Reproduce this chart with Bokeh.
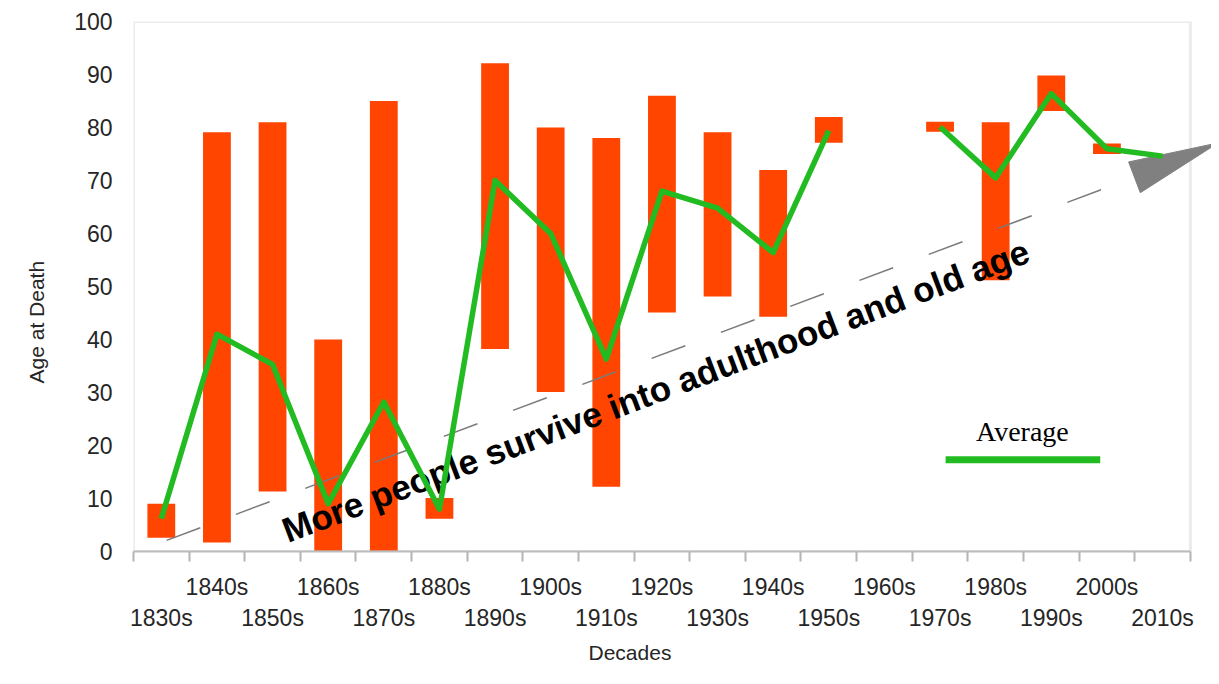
import math
from bokeh.plotting import figure
from bokeh.models import (Range1d, FixedTicker, LinearAxis, Arrow, PolyAnnotation,
                          Label, ColumnDataSource, BoxAnnotation, Title)
from bokeh.embed import file_html
from bokeh.resources import INLINE

nan = float("nan")

# ---------------- data ----------------
decades = ["1830s", "1840s", "1850s", "1860s", "1870s", "1880s", "1890s", "1900s",
           "1910s", "1920s", "1930s", "1940s", "1950s", "1960s", "1970s", "1980s",
           "1990s", "2000s", "2010s"]
youngest = [2.6, 1.7, 11.3, 0.0, 0.0, 6.2, 38.2, 30.1, 12.2, 45.1, 48.1, 44.3,
            77.1, nan, 79.2, 51.2, 83.1, 75.0, nan]
oldest = [9.0, 79.1, 81.0, 40.0, 85.0, 10.1, 92.1, 80.0, 78.0, 86.0, 79.1, 72.0,
          82.0, nan, 81.1, 81.0, 89.8, 77.0, nan]
average = [6.2, 41.0, 35.3, 9.0, 28.2, 8.0, 70.0, 60.0, 36.3, 68.0, 64.8, 56.4,
           79.4, nan, 80.1, 70.5, 86.4, 76.0, 74.6]
y_ticks = [0, 10, 20, 30, 40, 50, 60, 70, 80, 90, 100]

# ---------------- styles ----------------
BAR = "#ff4500"
GREEN = "#22bb22"
FONT = "Liberation Sans"
LABEL_COLOR = "#262626"
BORDER = "#bcbcbc"

n = len(decades)
idx = list(range(n))
X_START, X_BOX_END = -0.5, n - 0.5
X_END = X_BOX_END + 0.38          # extra room on the right for the arrow head

bar_idx = [i for i in idx if not math.isnan(oldest[i])]
bars = ColumnDataSource(dict(x=bar_idx,
                             top=[oldest[i] for i in bar_idx],
                             bottom=[youngest[i] for i in bar_idx]))
avg_src = ColumnDataSource(dict(x=idx, y=average))

p = figure(width=1211, height=668, output_backend="svg", toolbar_location=None,
           x_range=Range1d(X_START, X_END), y_range=Range1d(0, 100),
           x_axis_location=None, y_axis_location="left")
p.min_border_left = 133
p.min_border_right = 0
p.min_border_top = 21
p.min_border_bottom = 115
p.background_fill_color = "white"
p.border_fill_color = "white"
p.outline_line_color = None
p.xgrid.visible = False
p.ygrid.visible = False

# plot box border (stops at the last decade, the arrow head pokes out of it)
p.add_layout(BoxAnnotation(left=X_START, right=X_BOX_END, bottom=0, top=100,
                           fill_color=None, fill_alpha=0, line_color=BORDER,
                           line_width=3))

p.vbar(x="x", top="top", bottom="bottom", width=0.5, source=bars,
       fill_color=BAR, line_color=None)
ln = p.line(x="x", y="y", source=avg_src, line_color=GREEN, line_width=5.5,
            line_join="round")
ln.level = "overlay"

# y axis
ya = p.yaxis[0]
ya.ticker = FixedTicker(ticks=y_ticks)
ya.axis_line_color = None
ya.major_tick_line_color = None
ya.minor_tick_line_color = None
ya.major_tick_out = 0
ya.major_tick_in = 0
ya.major_label_standoff = 21
ya.major_label_text_font = FONT
ya.major_label_text_font_size = "23px"
ya.major_label_text_color = LABEL_COLOR

# x axes: two rows of alternating labels, ticks at the decade boundaries
centers = idx
boundaries = [i - 0.5 for i in range(n + 1)]

ax1 = LinearAxis(ticker=FixedTicker(ticks=centers, minor_ticks=boundaries),
                 bounds=(X_START, X_BOX_END))
ax1.major_label_overrides = {i: (decades[i] if i % 2 == 1 else " ") for i in idx}
ax1.major_tick_out = 0
ax1.major_tick_in = 0
ax1.major_tick_line_color = None
ax1.minor_tick_out = 10
ax1.minor_tick_in = 0
ax1.minor_tick_line_color = "#b4b4b4"
ax1.minor_tick_line_width = 2
ax1.axis_line_color = BORDER
ax1.axis_line_width = 2
ax1.major_label_standoff = 12
ax1.major_label_text_font = FONT
ax1.major_label_text_font_size = "23px"
ax1.major_label_text_color = LABEL_COLOR
p.add_layout(ax1, "below")

ax2 = LinearAxis(ticker=FixedTicker(ticks=centers), bounds=(X_START, X_BOX_END))
ax2.major_label_overrides = {i: (decades[i] if i % 2 == 0 else " ") for i in idx}
ax2.axis_line_color = None
ax2.major_tick_line_color = None
ax2.minor_tick_line_color = None
ax2.major_tick_out = 0
ax2.major_tick_in = 0
ax2.major_label_standoff = 2
ax2.major_label_text_font = FONT
ax2.major_label_text_font_size = "23px"
ax2.major_label_text_color = LABEL_COLOR
p.add_layout(ax2, "below")

# axis titles (as side titles so they can sit off-centre like the original)
p.add_layout(Title(text="Decades", align="left", offset=455, standoff=10,
                   text_font=FONT, text_font_size="21px", text_font_style="normal",
                   text_color=LABEL_COLOR), "below")
p.add_layout(Title(text="Age at Death", align="left", offset=168, standoff=44,
                   vertical_align="top",
                   text_font=FONT, text_font_size="21px", text_font_style="normal",
                   text_color=LABEL_COLOR), "left")

# trend annotation: dashed arrow with grey head, plus slanted caption
TREND_START = (-1.15, -2.8)
TREND_END = (17.49, 70.6)
HEAD_XS = [19.0, 17.39, 17.60]
HEAD_YS = [77.1, 73.5, 67.7]
p.add_layout(Arrow(x_start=TREND_START[0], y_start=TREND_START[1],
                   x_end=TREND_END[0], y_end=TREND_END[1], start=None, end=None,
                   line_color="#7a7a7a", line_width=1.5, line_dash="36 38"))
p.add_layout(PolyAnnotation(xs=HEAD_XS, ys=HEAD_YS, fill_color="#808080",
                            fill_alpha=1.0, line_color="#808080", line_alpha=1.0))
p.add_layout(Label(x=2.2, y=3.8, text="More people survive into adulthood and old age",
                   angle=0.362, text_font=FONT, text_font_size="35px",
                   text_font_style="bold", text_color="black",
                   text_align="left", text_baseline="alphabetic"))

# legend: caption above a green sample line
p.add_layout(Label(x=15.48, y=22.7, text="Average", text_font="Liberation Serif",
                   text_font_size="28px", text_color="black",
                   text_align="center", text_baseline="middle"))
p.add_layout(Arrow(x_start=14.10, y_start=17.3, x_end=16.88, y_end=17.3,
                   start=None, end=None, line_color=GREEN, line_width=7))

open("out.html", "w").write(file_html(p, INLINE))
